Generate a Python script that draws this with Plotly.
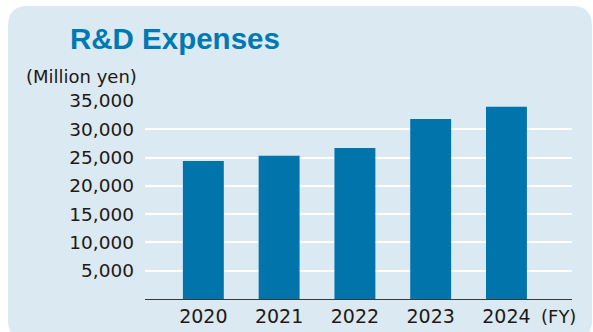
import plotly.graph_objects as go

# Data
years = ["2020", "2021", "2022", "2023", "2024"]
rd_expenses = [24400, 25300, 26700, 31800, 34000]
y_ticks = [5000, 10000, 15000, 20000, 25000, 30000, 35000]
y_tick_labels = ["5,000", "10,000", "15,000", "20,000", "25,000", "30,000", "35,000"]

W, H = 593, 332
ML, MR, MT, MB = 145, 21, 101, 33
PW, PH = W - ML - MR, H - MT - MB

def px(x):
    return (x - ML) / PW

def py(y):
    return 1 - (y - MT) / PH

FONT = "DejaVu Sans"
TXT = "#231815"
BAR = "#0074AB"
PANEL = "#DAE9F2"
TITLE = "#0079B3"

fig = go.Figure()
fig.add_trace(go.Bar(
    x=list(range(len(years))), y=rd_expenses,
    marker=dict(color=BAR, line=dict(width=0)),
    width=0.54, hoverinfo="skip",
))

# rounded panel
x0, y0, x1, y1, r = 8, 6, 592, 340, 20
path = (
    f"M {px(x0+r)},{py(y0)} L {px(x1-r)},{py(y0)} "
    f"Q {px(x1)},{py(y0)} {px(x1)},{py(y0+r)} "
    f"L {px(x1)},{py(y1-r)} Q {px(x1)},{py(y1)} {px(x1-r)},{py(y1)} "
    f"L {px(x0+r)},{py(y1)} Q {px(x0)},{py(y1)} {px(x0)},{py(y1-r)} "
    f"L {px(x0)},{py(y0+r)} Q {px(x0)},{py(y0)} {px(x0+r)},{py(y0)} Z"
)
fig.add_shape(type="path", path=path, xref="paper", yref="paper",
              fillcolor=PANEL, line=dict(width=0), layer="below")

fig.update_layout(
    width=W, height=H,
    margin=dict(l=ML, r=MR, t=MT, b=MB, pad=0, autoexpand=False),
    paper_bgcolor="white", plot_bgcolor="rgba(0,0,0,0)",
    showlegend=False,
    font=dict(family=FONT, size=18, color=TXT),
    xaxis=dict(
        range=[-0.77, 4.865], tickmode="array",
        tickvals=list(range(len(years))), ticktext=years,
        showgrid=False, zeroline=False, showline=True,
        linecolor="#3a3a3a", linewidth=1, ticks="",
        tickfont=dict(size=19, family=FONT, color=TXT),
        ticklabelstandoff=0, automargin=False,
    ),
    yaxis=dict(
        range=[0, 35000], tickmode="array",
        tickvals=y_ticks, ticktext=y_tick_labels,
        showgrid=True, gridcolor="white", gridwidth=1.5,
        zeroline=False, showline=False, ticks="",
        tickfont=dict(size=18.5, family=FONT, color=TXT),
        ticklabelstandoff=10, automargin=False,
    ),
    annotations=[
        dict(text="<b>R&D Expenses</b>", xref="paper", yref="paper",
             x=px(68), y=py(38), xanchor="left", yanchor="middle",
             showarrow=False, font=dict(family="Liberation Sans", size=29.5, color=TITLE)),
        dict(text="(Million yen)", xref="paper", yref="paper",
             x=px(24), y=py(76), xanchor="left", yanchor="middle",
             showarrow=False, font=dict(family=FONT, size=18, color=TXT)),
        dict(text="(FY)", xref="paper", yref="paper",
             x=px(558), y=py(316), xanchor="center", yanchor="middle",
             showarrow=False, font=dict(family=FONT, size=18, color=TXT)),
    ],
)

fig.write_html("out.html")
